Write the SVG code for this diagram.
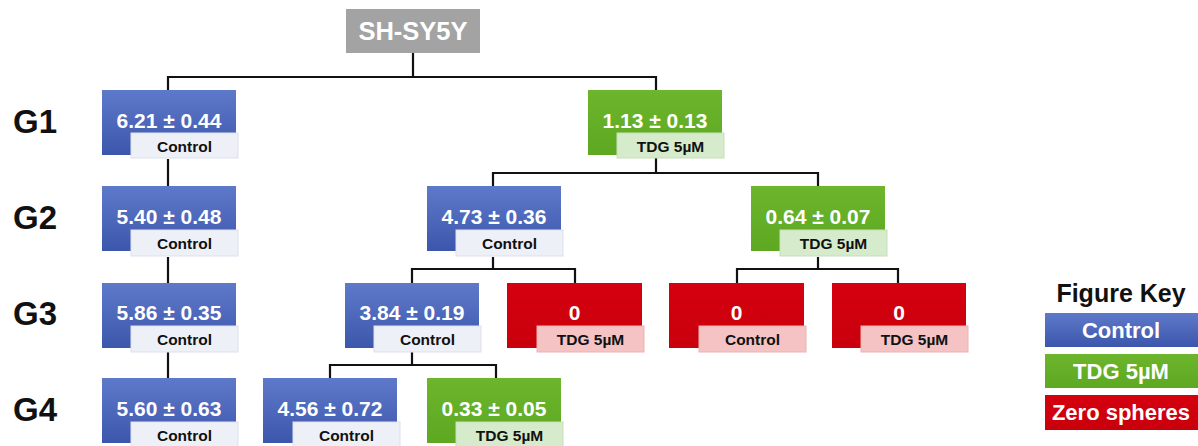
<svg xmlns="http://www.w3.org/2000/svg" width="1198" height="446" viewBox="0 0 1198 446">
<defs>
<linearGradient id="gBlue" x1="0" y1="0" x2="0" y2="1"><stop offset="0" stop-color="#5f79ca"/><stop offset="1" stop-color="#3c56ab"/></linearGradient>
<linearGradient id="gGreen" x1="0" y1="0" x2="0" y2="1"><stop offset="0" stop-color="#6cb52c"/><stop offset="1" stop-color="#5ea822"/></linearGradient>
<linearGradient id="gRed" x1="0" y1="0" x2="0" y2="1"><stop offset="0" stop-color="#d6000f"/><stop offset="1" stop-color="#c8000c"/></linearGradient>
</defs>
<style>
text{font-family:"Liberation Sans",Arial,sans-serif;font-weight:bold;}
.blue{fill:url(#gBlue);}
.green{fill:url(#gGreen);}
.red{fill:url(#gRed);}
.lb{fill:#eef0f8;stroke:#dde1ee;stroke-width:1;}
.lg{fill:#d6ebcb;stroke:#c7dfba;stroke-width:1;}
.lr{fill:#f5c3c3;stroke:#ebb3b3;stroke-width:1;}
.val{fill:#ffffff;font-size:21px;text-anchor:middle;}
.lab{fill:#111111;font-size:15.5px;text-anchor:middle;}
.g{fill:#111111;font-size:33px;}
.conn{fill:none;stroke:#111111;stroke-width:2.2;}
.key{fill:#ffffff;font-size:22px;text-anchor:middle;}
</style>
<rect x="0" y="0" width="1198" height="446" fill="#ffffff"/>

<g id="connectors">
<path class="conn" d="M413 53V77M168 90V77H656V90"/>
<path class="conn" d="M168 159V186M168 257V283M168 352V378"/>
<path class="conn" d="M656 158V173M493 186V173H818V186"/>
<path class="conn" d="M493 257V269M412 283V269H575V283"/>
<path class="conn" d="M818 257V269M737 283V269H898V283"/>
<path class="conn" d="M412 352V365M330 378V365H496V378"/>
</g>

<g id="root">
<rect x="346" y="9" width="134" height="44" fill="#a3a3a3"/>
<text x="413" y="40" fill="#ffffff" font-size="25.5" text-anchor="middle">SH-SY5Y</text>
</g>

<g id="row-labels">
<text class="g" x="13" y="133">G1</text>
<text class="g" x="13" y="229">G2</text>
<text class="g" x="13" y="325">G3</text>
<text class="g" x="13" y="421">G4</text>
</g>

<g id="g1-control">
<rect class="blue" x="102" y="90" width="134" height="65"/>
<text class="val" x="169" y="128">6.21 ± 0.44</text>
<rect class="lb" x="131" y="133" width="107" height="25"/>
<text class="lab" x="184.5" y="152">Control</text>
</g>
<g id="g1-tdg">
<rect class="green" x="588" y="90" width="134" height="65"/>
<text class="val" x="655" y="128">1.13 ± 0.13</text>
<rect class="lg" x="617" y="133" width="107" height="25"/>
<text class="lab" x="670.5" y="152">TDG 5µM</text>
</g>

<g id="g2-control-a">
<rect class="blue" x="102" y="186" width="134" height="65"/>
<text class="val" x="169" y="224">5.40 ± 0.48</text>
<rect class="lb" x="131" y="230" width="107" height="26"/>
<text class="lab" x="184.5" y="249">Control</text>
</g>
<g id="g2-control-b">
<rect class="blue" x="427" y="186" width="134" height="65"/>
<text class="val" x="494" y="224">4.73 ± 0.36</text>
<rect class="lb" x="456" y="230" width="107" height="26"/>
<text class="lab" x="509.5" y="249">Control</text>
</g>
<g id="g2-tdg">
<rect class="green" x="751" y="186" width="134" height="65"/>
<text class="val" x="818" y="224">0.64 ± 0.07</text>
<rect class="lg" x="780" y="230" width="107" height="26"/>
<text class="lab" x="833.5" y="249">TDG 5µM</text>
</g>

<g id="g3-control-a">
<rect class="blue" x="102" y="283" width="134" height="65"/>
<text class="val" x="169" y="320">5.86 ± 0.35</text>
<rect class="lb" x="131" y="326" width="107" height="26"/>
<text class="lab" x="184.5" y="345">Control</text>
</g>
<g id="g3-control-b">
<rect class="blue" x="345" y="283" width="134" height="65"/>
<text class="val" x="412" y="320">3.84 ± 0.19</text>
<rect class="lb" x="374" y="326" width="107" height="26"/>
<text class="lab" x="427.5" y="345">Control</text>
</g>
<g id="g3-zero-a">
<rect class="red" x="507" y="283" width="135" height="65"/>
<text class="val" x="574.5" y="320">0</text>
<rect class="lr" x="537" y="326" width="107" height="26"/>
<text class="lab" x="590.5" y="345">TDG 5µM</text>
</g>
<g id="g3-zero-b">
<rect class="red" x="669" y="283" width="135" height="65"/>
<text class="val" x="736.5" y="320">0</text>
<rect class="lr" x="699" y="326" width="107" height="26"/>
<text class="lab" x="752.5" y="345">Control</text>
</g>
<g id="g3-zero-c">
<rect class="red" x="832" y="283" width="134" height="65"/>
<text class="val" x="899" y="320">0</text>
<rect class="lr" x="861" y="326" width="107" height="26"/>
<text class="lab" x="914.5" y="345">TDG 5µM</text>
</g>

<g id="g4-control-a">
<rect class="blue" x="102" y="378" width="134" height="65"/>
<text class="val" x="169" y="416">5.60 ± 0.63</text>
<rect class="lb" x="131" y="422" width="107" height="26"/>
<text class="lab" x="184.5" y="441">Control</text>
</g>
<g id="g4-control-b">
<rect class="blue" x="263" y="378" width="134" height="65"/>
<text class="val" x="330" y="416">4.56 ± 0.72</text>
<rect class="lb" x="293" y="422" width="107" height="26"/>
<text class="lab" x="346.5" y="441">Control</text>
</g>
<g id="g4-tdg">
<rect class="green" x="427" y="378" width="134" height="65"/>
<text class="val" x="494" y="416">0.33 ± 0.05</text>
<rect class="lg" x="456" y="422" width="107" height="26"/>
<text class="lab" x="509.5" y="441">TDG 5µM</text>
</g>

<g id="legend">
<text x="1121" y="302" fill="#111111" font-size="25" text-anchor="middle">Figure Key</text>
<rect class="blue" x="1045" y="313" width="153" height="34"/>
<text class="key" x="1121" y="338">Control</text>
<rect class="green" x="1045" y="354" width="153" height="34"/>
<text class="key" x="1121" y="379">TDG 5µM</text>
<rect class="red" x="1045" y="395" width="153" height="35"/>
<text class="key" x="1121" y="420">Zero spheres</text>
</g>
</svg>
